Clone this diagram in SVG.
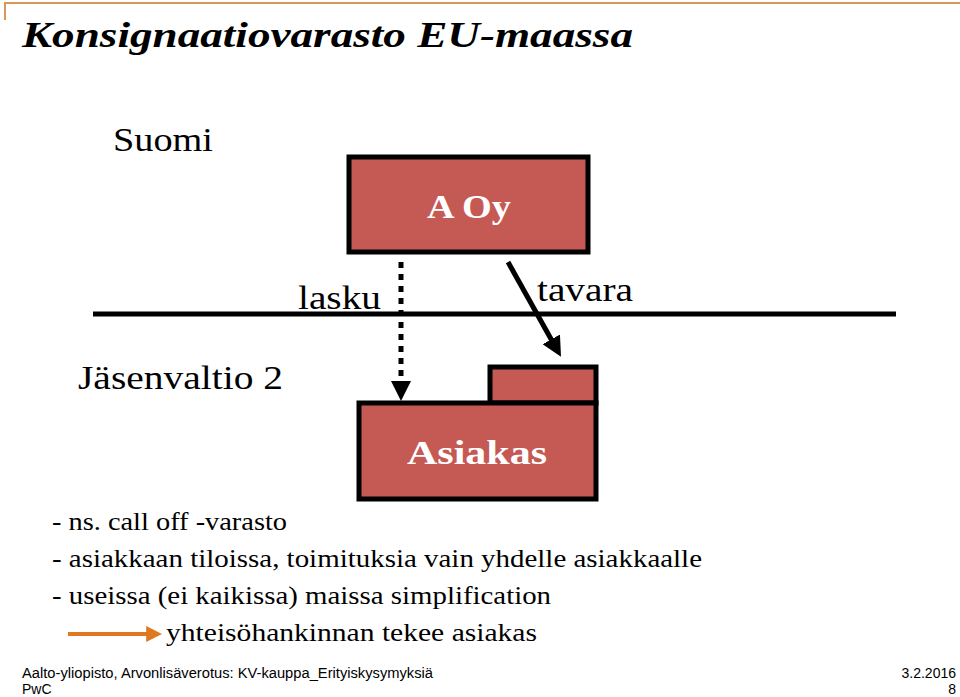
<svg xmlns="http://www.w3.org/2000/svg" width="960" height="697" viewBox="0 0 960 697">
<defs>
<style>
.serif{font-family:"Liberation Serif","Times New Roman",serif;fill:#000}
.lbl{font-size:34px}
.body{font-size:25px}
.box{fill:#C55A55;stroke:#000;stroke-width:5}
.boxt{font-family:"Liberation Serif","Times New Roman",serif;font-weight:bold;font-size:33px;fill:#fff}
.foot{font-family:"Liberation Sans",Arial,sans-serif;font-size:14px;fill:#000}
</style>
<marker id="ah" markerWidth="4" markerHeight="4" refX="2.2" refY="2" orient="auto" markerUnits="strokeWidth"><path d="M0,0 L4,2 L0,4 Z" fill="#000"/></marker>
<marker id="oh" markerWidth="4" markerHeight="4" refX="2.2" refY="2" orient="auto" markerUnits="strokeWidth"><path d="M0,0 L4,2 L0,4 Z" fill="#E07820"/></marker>
</defs>
<rect width="960" height="697" fill="#fff"/>
<path d="M5,20 V3 H960" fill="none" stroke="#D89A5A" stroke-width="2"/>
<text x="22" y="47" font-family="Liberation Serif, Times New Roman, serif" font-weight="bold" font-style="italic" font-size="35" fill="#000" textLength="611" lengthAdjust="spacingAndGlyphs">Konsignaatiovarasto EU-maassa</text>
<text class="serif lbl" x="113" y="151" textLength="100" lengthAdjust="spacingAndGlyphs">Suomi</text>
<text class="serif lbl" x="78" y="389" textLength="205" lengthAdjust="spacingAndGlyphs">Jäsenvaltio 2</text>
<line x1="93" y1="314" x2="896" y2="314" stroke="#000" stroke-width="5"/>
<g id="aoy">
<rect class="box" x="349" y="157" width="239" height="95"/>
<text class="boxt" x="427" y="218" textLength="84" lengthAdjust="spacingAndGlyphs">A Oy</text>
</g>
<g id="asiakas">
<rect class="box" x="490" y="367" width="106" height="36"/>
<rect class="box" x="359" y="403" width="237" height="96"/>
<text class="boxt" x="407" y="464" textLength="140" lengthAdjust="spacingAndGlyphs">Asiakas</text>
</g>
<g id="connectors">
<line x1="401" y1="262" x2="401" y2="392" stroke="#000" stroke-width="5" stroke-dasharray="6,6" marker-end="url(#ah)"/>
<text class="serif lbl" x="298" y="309" textLength="83" lengthAdjust="spacingAndGlyphs">lasku</text>
<line x1="508" y1="262" x2="556.6" y2="349" stroke="#000" stroke-width="5" marker-end="url(#ah)"/>
<text class="serif lbl" x="537" y="301" textLength="96" lengthAdjust="spacingAndGlyphs">tavara</text>
</g>
<text class="serif body" x="52" y="530" textLength="235" lengthAdjust="spacingAndGlyphs">- ns. call off -varasto</text>
<text class="serif body" x="52" y="567" textLength="650" lengthAdjust="spacingAndGlyphs">- asiakkaan tiloissa, toimituksia vain yhdelle asiakkaalle</text>
<text class="serif body" x="52" y="604" textLength="499" lengthAdjust="spacingAndGlyphs">- useissa (ei kaikissa) maissa simplification</text>
<line x1="68" y1="634" x2="155" y2="634" stroke="#E07820" stroke-width="4" marker-end="url(#oh)"/>
<text class="serif body" x="166" y="641" textLength="371" lengthAdjust="spacingAndGlyphs">yhteisöhankinnan tekee asiakas</text>
<text class="foot" x="22" y="678" textLength="411" lengthAdjust="spacingAndGlyphs">Aalto-yliopisto, Arvonlisäverotus: KV-kauppa_Erityiskysymyksiä</text>
<text class="foot" x="22" y="694">PwC</text>
<text class="foot" x="956" y="678" text-anchor="end">3.2.2016</text>
<text class="foot" x="956" y="694" text-anchor="end">8</text>
</svg>
